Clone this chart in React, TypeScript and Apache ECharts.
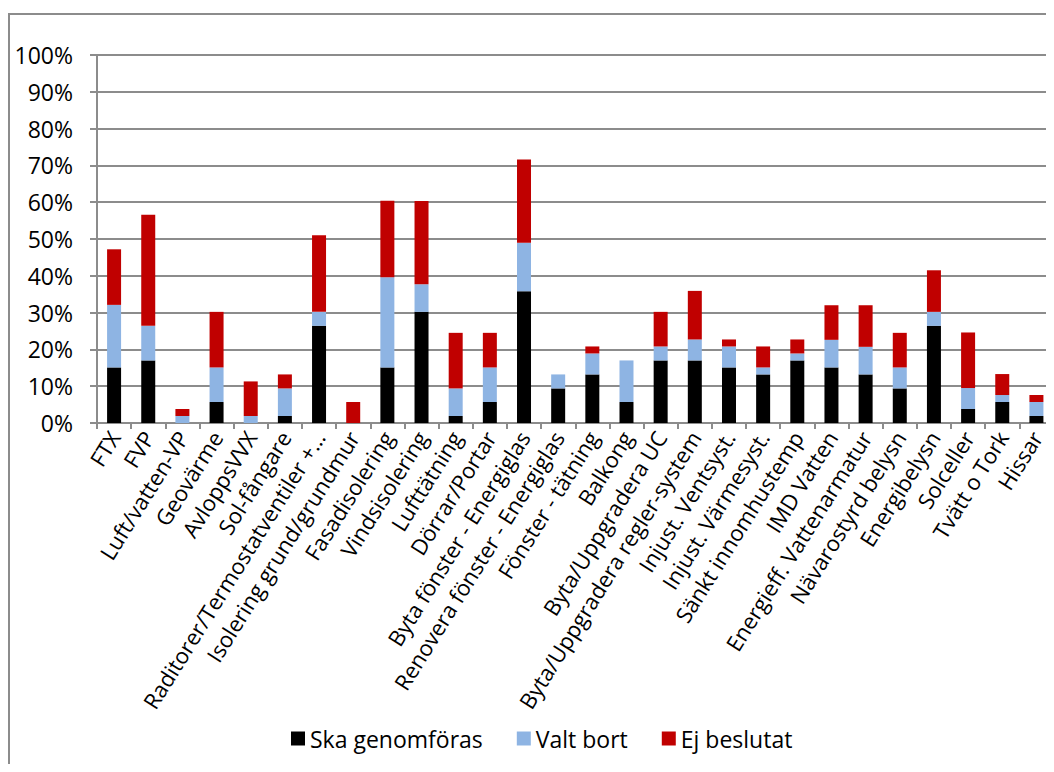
import React, { useEffect, useRef } from "react";
import * as echarts from "echarts";

const categories = [
  "FTX", "FVP", "Luft/vatten-VP", "Geovärme", "AvloppsVVX", "Sol-fångare",
  "Raditorer/Termostatventiler +…", "Isolering grund/grundmur", "Fasadisolering",
  "Vindsisolering", "Lufttätning", "Dörrar/Portar", "Byta fönster - Energiglas",
  "Renovera fönster - Energiglas", "Fönster - tätning", "Balkong",
  "Byta/Uppgradera UC", "Byta/Uppgradera regler-system", "Injust. Ventsyst.",
  "Injust. Värmesyst.", "Sänkt innomhustemp", "IMD Vatten",
  "Energieff. Vattenarmatur", "Nävarostyrd belysn", "Energibelysn", "Solceller",
  "Tvätt o Tork", "Hissar",
];

const skaGenomforas = [15.1, 17.0, 0, 5.7, 0, 1.9, 26.4, 0, 15.1, 30.2, 1.9, 5.7, 35.8, 9.4, 13.2, 5.7, 17.0, 17.0, 15.1, 13.2, 17.0, 15.1, 13.2, 9.4, 26.4, 3.8, 5.7, 1.9];
const valtBort = [17.0, 9.4, 1.9, 9.4, 1.9, 7.5, 3.8, 0, 24.5, 7.5, 7.5, 9.4, 13.2, 3.8, 5.7, 11.3, 3.8, 5.7, 5.7, 1.9, 1.9, 7.5, 7.5, 5.7, 3.8, 5.7, 1.9, 3.8];
const ejBeslutat = [15.1, 30.2, 1.9, 15.1, 9.4, 3.8, 20.8, 5.7, 20.8, 22.6, 15.1, 9.4, 22.6, 0, 1.9, 0, 9.4, 13.2, 1.9, 5.7, 3.8, 9.4, 11.3, 9.4, 11.3, 15.1, 5.7, 1.9];

const seriesNames = ["Ska genomföras", "Valt bort", "Ej beslutat"];
const seriesColors = ["#000000", "#8EB4E3", "#C00000"];

const FONT = "'Open Sans', sans-serif";
const GRAY = "#8c8c8c";

export default function App() {
  const ref = useRef<HTMLDivElement>(null);

  useEffect(() => {
    if (!ref.current) return;
    const chart = echarts.init(ref.current, null, { renderer: "svg" });
    const data = [skaGenomforas, valtBort, ejBeslutat];
    chart.setOption({
      animation: false,
      backgroundColor: "#ffffff",
      textStyle: { fontFamily: FONT },
      grid: { left: 89, top: 47, right: 0.5, bottom: 341, containLabel: false },
      legend: {
        data: seriesNames,
        left: 278,
        top: 714,
        icon: "rect",
        itemWidth: 14,
        itemHeight: 14,
        itemGap: 34,
        textStyle: { fontFamily: FONT, fontSize: 23, color: "#000" },
      },
      graphic: [
        {
          type: "rect",
          shape: { x: 1, y: 6, width: 3000, height: 3000 },
          style: { fill: "none", stroke: GRAY, lineWidth: 2 },
          silent: true,
          z: -1,
        },
      ],
      xAxis: {
        type: "category",
        data: categories,
        axisLine: { lineStyle: { color: GRAY, width: 2 } },
        axisTick: { show: true, length: 6, lineStyle: { color: GRAY, width: 2 } },
        axisLabel: {
          interval: 0,
          rotate: 58,
          margin: 10,
          fontFamily: FONT,
          fontSize: 22,
          color: "#000",
        },
      },
      yAxis: {
        type: "value",
        min: 0,
        max: 100,
        interval: 10,
        axisLine: { show: true, lineStyle: { color: GRAY, width: 2 } },
        axisTick: { show: true, length: 7, lineStyle: { color: GRAY, width: 2 } },
        axisLabel: {
          formatter: "{value}%",
          margin: 24,
          fontFamily: FONT,
          fontSize: 23,
          color: "#000",
        },
        splitLine: { lineStyle: { color: GRAY, width: 2 } },
      },
      series: seriesNames.map((name, i) => ({
        name,
        type: "bar",
        stack: "total",
        barWidth: 14,
        data: data[i],
        itemStyle: { color: seriesColors[i] },
      })),
    });
    return () => chart.dispose();
  }, []);

  return <div ref={ref} style={{ width: 1046, height: 756 }} />;
}
